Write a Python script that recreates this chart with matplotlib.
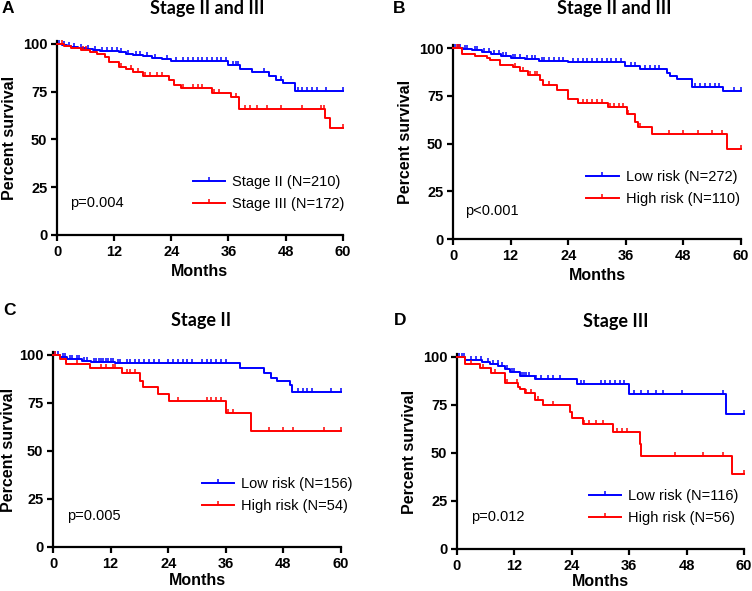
import numpy as np
import matplotlib
matplotlib.use('Agg')
import matplotlib.pyplot as plt
from matplotlib.path import Path
from matplotlib.lines import Line2D

# ---------- Data (months, percent survival) ----------
# Panel A: Stage II vs Stage III
a_blue_t = [1, 2, 3, 4.5, 6, 7.5, 9, 13, 14.5, 16, 18, 20, 22, 24, 36, 38.5, 41, 44.5, 46, 47.5, 50]
a_blue_s = [99.5, 99, 98.5, 98, 97.5, 97, 96.5, 96, 95, 94, 93.5, 92.5, 92, 91, 89, 87, 85.5, 83.5, 81, 79.5, 75.5]
a_blue_c = [0.5, 1.5, 2.5, 3.5, 5, 6.5, 8, 9.5, 10.5, 11.5, 12.5, 13.5, 15, 16.5, 17.5, 19, 20.5, 23,
            25, 26.5, 27.5, 28.5, 29.5, 30.5, 31.5, 32.5, 33.5, 34.5, 35.5, 37, 37.5, 38, 43.5, 47,
            50.5, 51.5, 52.5, 53.5, 54.5, 56.5, 60]
a_red_t = [1.5, 3, 5, 7, 8.5, 10, 11, 13, 14.5, 16, 18, 23.5, 24.5, 26, 32.5, 36.5, 38.3, 56.3, 57.3]
a_red_s = [99, 98, 97, 96, 95, 93, 90.5, 88, 87, 85.5, 83, 81, 78.5, 77, 74.5, 72, 66, 61, 56]
a_red_c = [1, 5.5, 6, 13.5, 15.5, 17, 18.5, 19.5, 21, 22, 26.5, 28.5, 29.5, 30.5, 33, 34, 37.5,
           39.5, 40.5, 42, 44, 47, 51.5, 55.5, 56, 60]

# Panel B: Low risk vs High risk (Stage II and III)
b_blue_t = [2, 4, 6, 8, 10, 12, 15, 18, 24, 35.8, 39, 44.6, 45.2, 46.7, 49.8, 56.3]
b_blue_s = [99.5, 99, 98, 97, 96, 95, 94, 93, 92.5, 90.6, 89.2, 87, 85.2, 83.6, 79.4, 77.3]
b_blue_c = [0.5, 1, 1.5, 2.5, 3, 4.5, 5, 6.5, 7.5, 8.5, 9.5, 10.5, 11, 12.5, 13, 14, 15.5, 16.5, 17,
            18.5, 19, 20, 21, 22, 23, 25, 26, 27, 28, 29, 30, 31, 32, 33, 34, 35, 37, 38, 40, 41,
            42, 43, 50.5, 51.5, 52.5, 53.5, 54.5, 55.5, 58.5, 60]
b_red_t = [1.8, 4.6, 7, 7.7, 9.8, 12.5, 14, 15.6, 18.1, 18.8, 21.6, 24, 26, 32.3, 36.2, 38, 38.5, 41.4, 57.1]
b_red_s = [97, 95.8, 94.8, 93.6, 91.3, 90, 87.8, 85.7, 83.1, 80.5, 77.9, 73.5, 71.2, 69.1, 65.6, 61.3, 58.6, 55.1, 47]
b_red_c = [0.8, 1.2, 13, 14.5, 16, 17, 17.5, 20, 27, 28, 29, 30, 31, 32.8, 33.5, 34.5, 35.5,
           36.5, 39, 45, 48, 51, 54, 56, 60]

# Panel C: Stage II
c_blue_t = [1.5, 3, 6, 8, 13, 15, 39, 44, 45.4, 46.6, 49.4, 49.7]
c_blue_s = [99, 98, 97, 96.5, 96, 95.8, 92.9, 90.6, 88, 86.6, 84.5, 80.7]
c_blue_c = [0.5, 1, 2, 2.5, 3.5, 4, 5, 5.5, 6.5, 7, 8.5, 9, 9.5, 10, 10.5, 11, 11.5, 12, 12.5,
            13.5, 14, 15.5, 16, 17, 18, 19, 20, 21, 22, 24, 25, 26, 27, 28, 29, 31, 32, 33, 34,
            35, 36, 44, 51, 52, 53, 54, 58, 60]
c_red_t = [1.5, 2.8, 7.7, 14.3, 18.1, 18.8, 21.9, 24.2, 36, 41.3]
c_red_s = [97.6, 95.3, 93.2, 90.6, 86.5, 83.3, 79.7, 76, 69.8, 60.3]
c_red_c = [0.5, 5, 10, 11, 12.5, 13, 15.5, 16, 17, 26, 32, 33, 34, 35, 36.5, 37.5, 45, 48, 50, 56.5, 60]

# Panel D: Stage III
d_blue_t = [1.7, 5.2, 7, 8.6, 10, 11.1, 13.2, 16.3, 25, 36, 56.3]
d_blue_s = [98.3, 97.5, 96.5, 95, 93.8, 92.3, 90.1, 88.4, 85.8, 80.6, 70.3]
d_blue_c = [0.5, 1, 1.5, 3, 4, 5, 6.5, 7.5, 8.5, 9.5, 10.5, 11.5, 12, 13.5, 14, 14.5, 15, 16.5,
            17.5, 19, 20, 21.5, 26, 26.5, 30, 31, 32, 33, 34, 35, 37, 38.5, 40, 41.5, 43, 47, 55.5, 60]
d_red_t = [1.7, 4.8, 7.2, 10, 12.8, 13.2, 14.2, 16.3, 18, 23.6, 24, 26.4, 32.7, 38.2, 38.5, 57.4]
d_red_s = [96.4, 94.1, 91.8, 86.6, 84.5, 83, 81.2, 77.6, 75, 71.5, 68, 65.3, 61.1, 54.5, 48.4, 39]
d_red_c = [3, 5.5, 8, 10.5, 12.5, 14.5, 15.5, 17, 20, 26.5, 27.5, 29, 30.5, 33.5, 34.5, 35.5,
           45.5, 51.5, 55.5, 60]

panels = [
    dict(letter='A', title='Stage II and III', pos=[0.0758, 0.6024, 0.380, 0.328],
         blue=(a_blue_t, a_blue_s, a_blue_c), red=(a_red_t, a_red_s, a_red_c),
         labels=['Stage II (N=210)', 'Stage III (N=172)'], p='p=0.004',
         ptxt=(2.7, 16.7), leg=(28.5, 22.0), xpad=4, ypad=4,
         title_xy=(0.275, 0.977), letter_xy=(0.011, 0.978)),
    dict(letter='B', title='Stage II and III', pos=[0.6024, 0.5956, 0.383, 0.328],
         blue=(b_blue_t, b_blue_s, b_blue_c), red=(b_red_t, b_red_s, b_red_c),
         labels=['Low risk (N=272)', 'High risk (N=110)'], p='p<0.001',
         ptxt=(2.5, 14.7), leg=(27.8, 26.5), xpad=4, ypad=4,
         title_xy=(0.817, 0.976), letter_xy=(0.531, 0.978)),
    dict(letter='C', title='Stage II', pos=[0.0705, 0.0745, 0.383, 0.33],
         blue=(c_blue_t, c_blue_s, c_blue_c), red=(c_red_t, c_red_s, c_red_c),
         labels=['Low risk (N=156)', 'High risk (N=54)'], p='p=0.005',
         ptxt=(2.9, 16.1), leg=(31.0, 26.8), xpad=2, ypad=2,
         title_xy=(0.268, 0.448), letter_xy=(0.013, 0.467)),
    dict(letter='D', title='Stage III', pos=[0.6077, 0.0711, 0.3817, 0.33],
         blue=(d_blue_t, d_blue_s, d_blue_c), red=(d_red_t, d_red_s, d_red_c),
         labels=['Low risk (N=116)', 'High risk (N=56)'], p='p=0.012',
         ptxt=(2.9, 16.7), leg=(27.5, 22.0), xpad=1, ypad=4,
         title_xy=(0.819, 0.447), letter_xy=(0.532, 0.45)),
]

BLUE = '#0000ff'
RED = '#ff0000'
tick_mark = Path([(0, 0), (0, 1)], [Path.MOVETO, Path.LINETO])
arial = 'Liberation Sans'


def draw_curve(ax, t, s, cens, color):
    tt = np.r_[0, t, 60]
    ss = np.r_[100, s, s[-1]]
    ax.step(tt, ss, where='post', color=color, lw=1.4, clip_on=False, zorder=3)
    idx = np.searchsorted(tt, cens, side='right') - 1
    ax.plot(cens, ss[idx], ls='none', marker=tick_mark, ms=6, mew=1.1,
            color=color, clip_on=False, zorder=3)


fig = plt.figure(figsize=(7.52, 5.91), dpi=100)

for p in panels:
    ax = fig.add_axes(p['pos'])
    draw_curve(ax, *p['blue'], BLUE)
    draw_curve(ax, *p['red'], RED)

    ax.set_xlim(0, 60)
    ax.set_ylim(0, 101.5)
    ax.set_xticks([0, 12, 24, 36, 48, 60])
    ax.set_yticks([0, 25, 50, 75, 100])
    for sp in ['top', 'right']:
        ax.spines[sp].set_visible(False)
    for sp in ['left', 'bottom']:
        ax.spines[sp].set_linewidth(1.6)
    ax.tick_params(length=4, width=1.6, pad=3)
    for lab in ax.get_xticklabels() + ax.get_yticklabels():
        lab.set_fontfamily(arial)
        lab.set_fontweight('bold')
        lab.set_fontsize(10.5)
    ax.set_xlabel('Months', fontfamily=arial, fontweight='bold', fontsize=11.5, labelpad=p['xpad'])
    ax.set_ylabel('Percent survival', fontfamily=arial, fontweight='bold', fontsize=11.5,
                  labelpad=p['ypad'])

    ax.text(p['ptxt'][0], p['ptxt'][1], p['p'], fontfamily=arial, fontsize=10.5, va='center')

    handles = [Line2D([], [], color=c, lw=1.4, marker=tick_mark, ms=6, mew=1.1)
               for c in (BLUE, RED)]
    ax.legend(handles, p['labels'], loc='center left', bbox_to_anchor=p['leg'],
              bbox_transform=ax.transData, frameon=False, borderpad=0, borderaxespad=0,
              handlelength=2.2, handletextpad=0.5, labelspacing=0.55, numpoints=1,
              prop=dict(family=arial, size=10.5))

    fig.text(*p['title_xy'], p['title'], ha='center', va='baseline',
             fontfamily='Lato', fontweight='bold', fontsize=13)
    fig.text(*p['letter_xy'], p['letter'], ha='center', va='baseline',
             fontfamily=arial, fontweight='bold', fontsize=12.5)

fig.savefig('out.png', dpi=100)
